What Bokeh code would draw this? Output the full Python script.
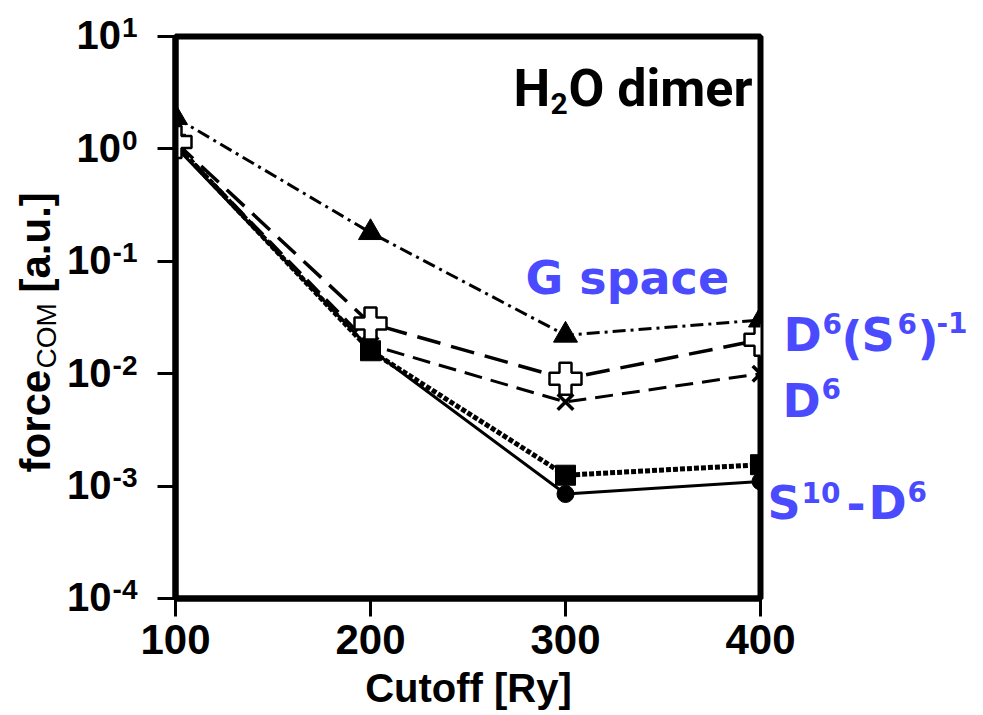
import math
from bokeh.plotting import figure
from bokeh.models import Range1d, FixedTicker, Label
from bokeh.embed import file_html
from bokeh.resources import INLINE

# ---------------- data ----------------
cutoff = [100, 200, 300, 400]
g_space = [1.9, 0.18, 0.022, 0.030]          # triangles, dash-dot
d6_s6inv = [1.15, 0.028, 0.0090, 0.020]      # open plus, long dash
d6 = [1.10, 0.018, 0.0056, 0.010]            # x, dashed
s10_d6_sq = [1.10, 0.016, 0.00125, 0.00155]  # squares, dotted
s10_d6 = [1.05, 0.0165, 0.00085, 0.00110]    # circles, solid
x_ticks = [100, 200, 300, 400]
y_exponents = [-4, -3, -2, -1, 0, 1]

BLUE = "#4a4aff"
W, H = 983, 715
FL, FR, FT, FB = 175, 760, 36, 598   # frame edges in page px

p = figure(width=W, height=H, x_range=Range1d(100, 400), y_range=Range1d(1e-4, 10),
           y_axis_type="log", output_backend="svg", toolbar_location=None,
           min_border_left=FL, min_border_right=W - FR, min_border_top=FT,
           min_border_bottom=H - FB)
p.background_fill_color = "white"
p.border_fill_color = "white"
p.outline_line_color = "black"
p.outline_line_width = 6
p.grid.visible = False

for ax in (p.xaxis[0], p.yaxis[0]):
    ax.axis_line_width = 6
    ax.axis_line_color = "black"
    ax.major_tick_line_width = 3
    ax.major_tick_out = 18
    ax.major_tick_in = 0
    ax.minor_tick_line_color = None

p.xaxis.ticker = FixedTicker(ticks=x_ticks)
p.xaxis.major_label_text_font = "Liberation Sans"
p.xaxis.major_label_text_font_style = "bold"
p.xaxis.major_label_text_font_size = "42px"
p.xaxis.major_label_text_color = "black"
p.xaxis.major_label_standoff = 8

p.yaxis.ticker = FixedTicker(ticks=[10.0 ** e for e in y_exponents])
p.yaxis.major_label_overrides = {10.0 ** e: "" for e in y_exponents}

# ---------------- series ----------------
p.line(cutoff, s10_d6, line_color="black", line_width=3)
p.line(cutoff, s10_d6_sq, line_color="black", line_width=5, line_dash="5 2")
p.line(cutoff, d6, line_color="black", line_width=3, line_dash="18 9")
p.line(cutoff, d6_s6inv, line_color="black", line_width=3.5, line_dash="24 11")
p.line(cutoff, g_space, line_color="black", line_width=3, line_dash="13 5 3 5")

p.scatter(cutoff, s10_d6, marker="circle", size=17, color="black")
p.scatter(cutoff, s10_d6_sq, marker="square", size=20, color="black")
p.scatter(cutoff, d6, marker="x", size=22, line_color="black", line_width=3.5)
p.scatter(cutoff, d6_s6inv, marker="plus", size=32, fill_color="white",
          line_color="black", line_width=2.5)
p.scatter(cutoff, g_space, marker="triangle", size=24, color="black")

# ---------------- transparent text overlay (page pixel coordinates) ----------------
ov = figure(width=W, height=H, x_range=Range1d(0, W), y_range=Range1d(H, 0),
            output_backend="svg", toolbar_location=None, title=None,
            x_axis_location=None, y_axis_location=None, min_border=0)
ov.background_fill_color = None
ov.border_fill_color = None
ov.outline_line_color = None
ov.grid.visible = False
ov.styles = {"position": "absolute", "left": "0px", "top": "0px",
             "pointer-events": "none"}

SHIFT = 0.38  # measured offset of rendered baseline, in em


def lab(xp, yp, text, size, color="black", font="Liberation Sans", style="bold",
        align="left", angle=0.0):
    if angle == 0.0:
        yp = yp - SHIFT * size
    else:
        xp = xp - SHIFT * size
    ov.add_layout(Label(x=xp, y=yp, text=text, text_font=font,
                        text_font_style=style, text_font_size=f"{size}px",
                        text_color=color, text_align=align,
                        text_baseline="alphabetic", angle=angle))


# y tick labels 10^e
char_w = {"-": 0.333, "0": 0.556, "1": 0.556, "2": 0.556, "3": 0.556, "4": 0.556}
for e in y_exponents:
    yp = FT + (1 - e) * (FB - FT) / 5.0
    es = str(e)
    w_exp = sum(char_w[c] for c in es) * 28
    xl = 137 - w_exp
    lab(xl - 1, yp + 14, "10", 40, align="right")
    lab(xl, yp + 2, es, 28)

# axis titles
lab(468, 703, "Cutoff [Ry]", 40, align="center")
lab(51, 472, "force", 42, angle=math.pi / 2)
lab(57, 368, "COM", 28, style="normal", angle=math.pi / 2)
lab(51, 292, "[a.u.]", 42, angle=math.pi / 2)

# in-plot title
lab(513, 108, "H", 52, font="Roboto")
lab(550, 114, "2", 30, font="Roboto")
lab(568, 108, "O dimer", 52, font="Roboto")

# blue series labels
F = "DejaVu Sans"
lab(525, 295, "G space", 46, BLUE, F)

lab(783, 352, "D", 46, BLUE, F)
lab(822, 334, "6", 28, BLUE, F)
lab(841, 355, "(", 46, BLUE, F)
lab(861, 352, "S", 46, BLUE, F)
lab(897, 334, "6", 28, BLUE, F)
lab(917, 355, ")", 46, BLUE, F)
lab(936, 333, "-1", 28, BLUE, F)

lab(782, 418, "D", 46, BLUE, F)
lab(821, 399, "6", 28, BLUE, F)

lab(767, 520, "S", 46, BLUE, F)
lab(801, 503, "10", 28, BLUE, F)
lab(846, 520, "-", 46, BLUE, F)
lab(868, 520, "D", 46, BLUE, F)
lab(907, 502, "6", 28, BLUE, F)

open("out.html", "w").write(file_html([p, ov], INLINE))
